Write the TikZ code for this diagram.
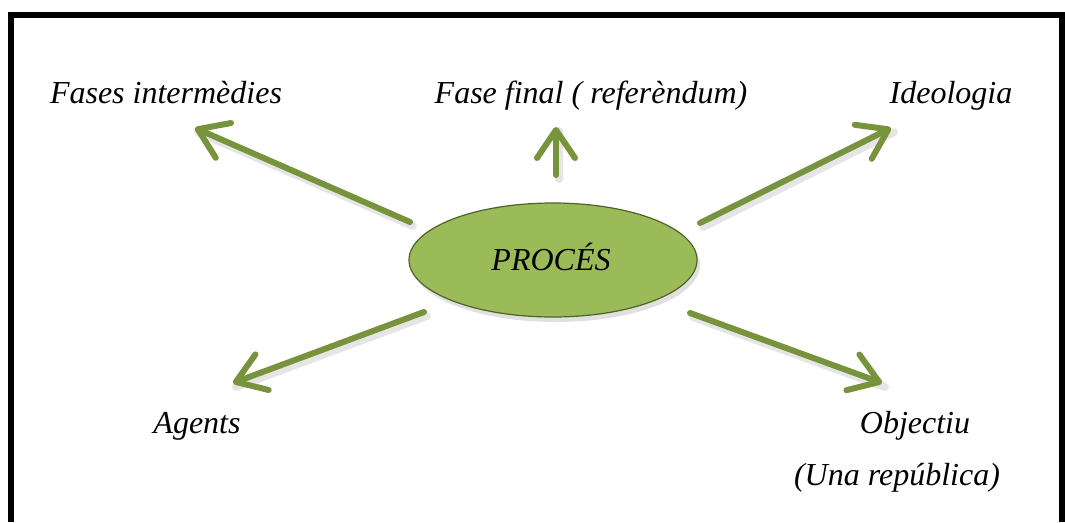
\documentclass[tikz,border=0pt]{standalone}
\usepackage{fontspec}
\setmainfont{Liberation Serif}
\usetikzlibrary{arrows.meta,shapes.geometric}
\definecolor{arrowgreen}{HTML}{77933C}
\definecolor{ellfill}{HTML}{9BBB59}
\definecolor{elldraw}{HTML}{4F6228}
\tikzset{
  lbl/.style={anchor=base, inner sep=0pt, font=\fontsize{32}{38}\selectfont\itshape},
  garrow/.style={draw=arrowgreen, line width=6pt, line cap=round,
    -{Straight Barb[length=28pt, width=38pt, round]}},
  gshadow/.style={draw=black, opacity=0.10, line width=8pt, line cap=round},
  borderline/.style={draw=black, line width=6pt}
}
\begin{document}
\begin{tikzpicture}[x=1pt, y=-1pt]
\useasboundingbox (0,0) rectangle (1065,522);
% frame
\draw[borderline] (11,522) -- (11,14.5) -- (1062,14.5) -- (1062,522);
% coordinates for arrows
\coordinate (s1) at (410,222); \coordinate (e1) at (195,128);
\coordinate (s2) at (556,175); \coordinate (e2) at (556,127);
\coordinate (s3) at (700,223); \coordinate (e3) at (891,128);
\coordinate (s4) at (424,312); \coordinate (e4) at (233,383);
\coordinate (s5) at (690,313); \coordinate (e5) at (882,383);
% shadows
\foreach \a/\b in {s1/e1,s2/e2,s3/e3,s4/e4,s5/e5}{
  \draw[gshadow] ([shift={(3,4)}]\a) -- ([shift={(3,4)}]\b);
}
\fill[black, opacity=0.12] (556,265) ellipse [x radius=144, y radius=57];
% centre ellipse
\node[draw=elldraw, fill=ellfill, line width=1.2pt, ellipse, minimum width=288pt, minimum height=114pt, inner sep=0pt] (proc) at (553,260) {};
\node[lbl] (proct) at (551,270) {PROCÉS};
% arrows
\draw[garrow] (s1) -- (e1);
\draw[garrow] (s2) -- (e2);
\draw[garrow] (s3) -- (e3);
\draw[garrow] (s4) -- (e4);
\draw[garrow] (s5) -- (e5);
% labels
\node[lbl] (fi) at (166,103) {Fases intermèdies};
\node[lbl] (ff) at (591,103) {Fase final ( referèndum)};
\node[lbl] (id) at (951,103) {Ideologia};
\node[lbl] (ag) at (197,433) {Agents};
\node[lbl] (ob) at (915,433) {Objectiu};
\node[lbl] (ur) at (897,485) {(Una república)};
\end{tikzpicture}
\end{document}
